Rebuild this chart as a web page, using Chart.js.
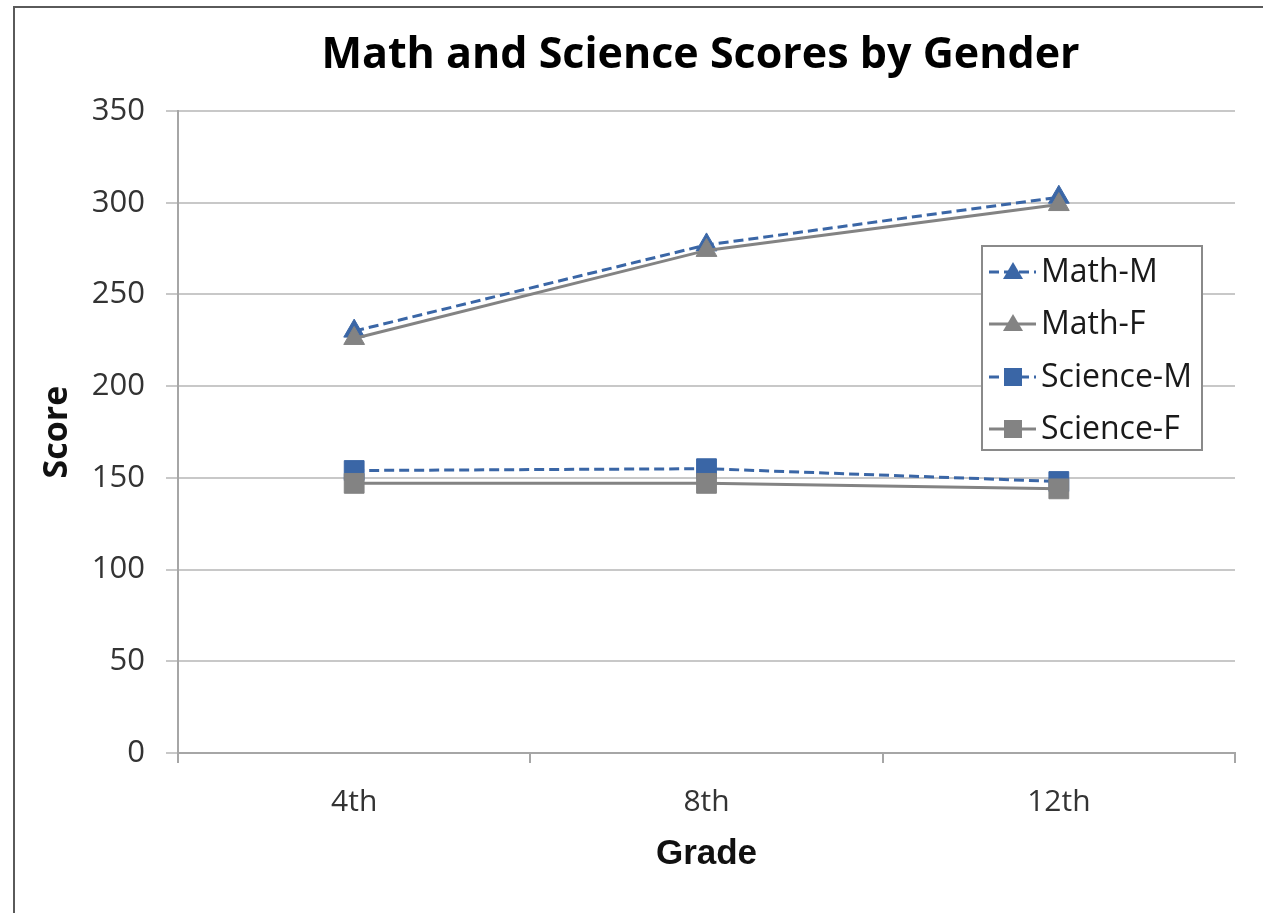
<!DOCTYPE html>
<html>
<head>
<meta charset="utf-8">
<script src="https://cdn.jsdelivr.net/npm/chart.js@4.4.1/dist/chart.umd.min.js"></script>
<style>
  html, body { margin: 0; padding: 0; background: #fff; overflow: hidden; }
  #wrap { position: relative; width: 1263px; height: 913px; }
  #frame { position: absolute; left: 13px; top: 6px; width: 2000px; height: 2000px; border: 2px solid #5a5a5a; }
  canvas { position: absolute; left: 0; top: 0; }
</style>
</head>
<body>
<div id="wrap">
  <div id="frame"></div>
  <canvas id="chart" width="1263" height="913"></canvas>
</div>
<script>
const grades = ["4th", "8th", "12th"];
const mathM = [230, 277, 303];
const mathF = [226, 274, 299];
const scienceM = [154, 155, 148];
const scienceF = [147, 147, 144];
const yTicks = [0, 50, 100, 150, 200, 250, 300, 350];

const blue = "#3a66a6";
const gray = "#838383";
const font = "'Open Sans', 'Liberation Sans', sans-serif";
const titleText = "Math and Science Scores by Gender";

// title centred over the plot area
const plotTitle = {
  id: "plotTitle",
  afterDraw(chart) {
    const ctx = chart.ctx;
    const area = chart.chartArea;
    ctx.save();
    ctx.fillStyle = "#000";
    ctx.font = "bold 43px " + font;
    ctx.textAlign = "center";
    ctx.textBaseline = "alphabetic";
    ctx.fillText(titleText, (area.left + area.right) / 2 - 6, 68);
    ctx.restore();
  }
};

// legend drawn inside the plot like the original
const boxLegend = {
  id: "boxLegend",
  afterDraw(chart) {
    const ctx = chart.ctx;
    const x = 982, y = 246, w = 220, h = 204;
    ctx.save();
    ctx.fillStyle = "#fff";
    ctx.fillRect(x, y, w, h);
    ctx.strokeStyle = "#8a8a8a";
    ctx.lineWidth = 2;
    ctx.strokeRect(x, y, w, h);
    const rows = [272, 324, 377, 429];
    chart.data.datasets.forEach((ds, i) => {
      const cy = rows[i];
      ctx.strokeStyle = ds.borderColor;
      ctx.lineWidth = 3;
      ctx.setLineDash(ds.borderDash || []);
      ctx.beginPath();
      ctx.moveTo(989, cy);
      ctx.lineTo(1036, cy);
      ctx.stroke();
      ctx.setLineDash([]);
      ctx.fillStyle = ds.pointBackgroundColor;
      ctx.beginPath();
      if (ds.pointStyle === "triangle") {
        ctx.moveTo(1013, cy - 10);
        ctx.lineTo(1023, cy + 7);
        ctx.lineTo(1003, cy + 7);
      } else {
        ctx.rect(1004, cy - 9, 18, 18);
      }
      ctx.closePath();
      ctx.fill();
      ctx.fillStyle = "#1a1a1a";
      ctx.font = "32px " + font;
      ctx.textBaseline = "middle";
      ctx.fillText(ds.label, 1041, cy + 1);
    });
    ctx.restore();
  }
};

const makeSet = (label, data, color, style, dashed, order) => ({
  label,
  data,
  borderColor: color,
  backgroundColor: color,
  pointBackgroundColor: color,
  pointBorderColor: color,
  borderWidth: 3,
  borderDash: dashed ? [10, 5] : [],
  pointStyle: style,
  pointRadius: style === "triangle" ? 12 : 14,
  pointBorderWidth: 1,
  tension: 0,
  order
});

new Chart(document.getElementById("chart"), {
  type: "line",
  data: {
    labels: grades,
    datasets: [
      makeSet("Math-M", mathM, blue, "triangle", true, 4),
      makeSet("Math-F", mathF, gray, "triangle", false, 3),
      makeSet("Science-M", scienceM, blue, "rect", true, 2),
      makeSet("Science-F", scienceF, gray, "rect", false, 1)
    ]
  },
  options: {
    responsive: false,
    animation: false,
    layout: { padding: { left: 0, right: 28, top: 111, bottom: 0 } },
    plugins: {
      legend: { display: false },
      tooltip: { enabled: false },
      title: { display: false }
    },
    scales: {
      x: {
        offset: true,
        grid: {
          offset: true,
          drawOnChartArea: false,
          drawTicks: true,
          tickLength: 10,
          color: "#a6a6a6",
          lineWidth: 2
        },
        border: { color: "#a6a6a6", width: 2 },
        ticks: { color: "#333", padding: 21, font: { family: font, size: 30 } },
        title: {
          display: true,
          text: "Grade",
          color: "#111",
          font: { family: "'Liberation Sans', Arial, sans-serif", size: 35, weight: "bold" },
          padding: { top: 0, bottom: 38 }
        },
        afterFit(scale) { scale.height = 160; }
      },
      y: {
        min: 0,
        max: 350,
        afterBuildTicks(scale) { scale.ticks = yTicks.map(v => ({ value: v })); },
        grid: { color: "#c8c8c8", lineWidth: 2, tickLength: 12 },
        border: { color: "#a6a6a6", width: 2 },
        ticks: { color: "#333", padding: 21, font: { family: font, size: 31 } },
        title: {
          display: true,
          text: "Score",
          color: "#111",
          font: { family: font, size: 34, weight: "bold" },
          padding: { top: 37, bottom: 0 }
        },
        afterFit(scale) { scale.width = 178; }
      }
    }
  },
  plugins: [plotTitle, boxLegend]
});
</script>
</body>
</html>
